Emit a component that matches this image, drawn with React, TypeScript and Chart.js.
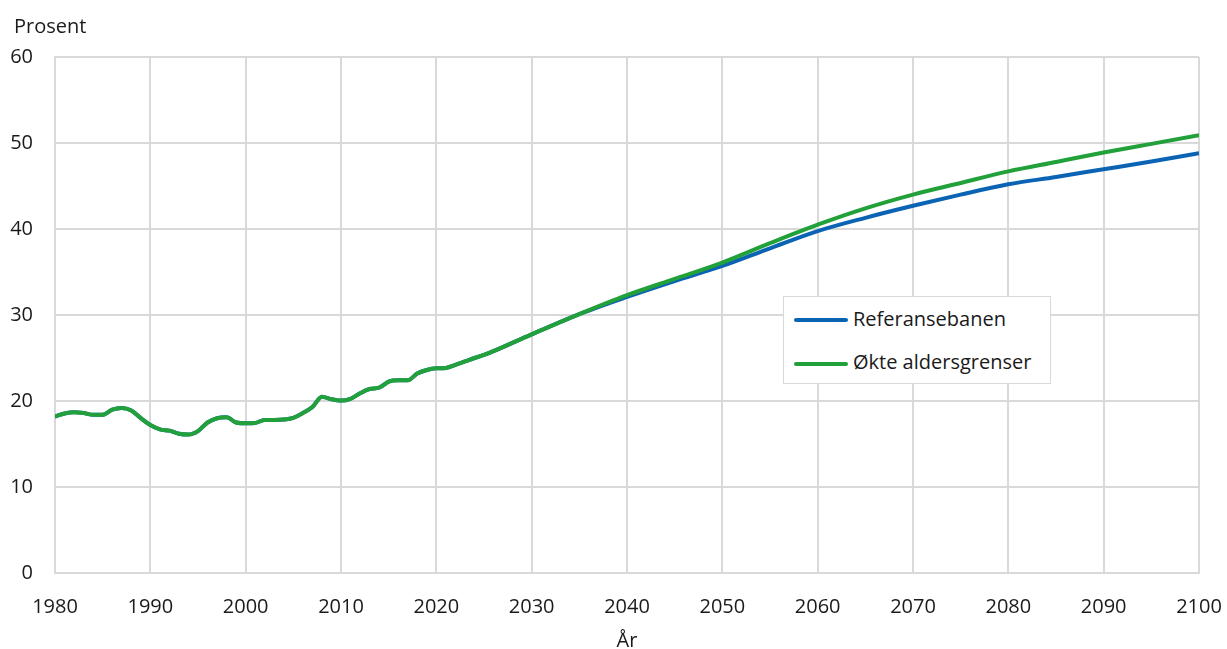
import React, { useEffect, useRef } from 'react';
import { Chart, registerables } from 'chart.js';

Chart.register(...registerables);

const histYears = [
  1980, 1981, 1982, 1983, 1984, 1985, 1986, 1987, 1988, 1989,
  1990, 1991, 1992, 1993, 1994, 1995, 1996, 1997, 1998, 1999,
  2000, 2001, 2002, 2003, 2004, 2005, 2006, 2007, 2008, 2009,
  2010, 2011, 2012, 2013, 2014, 2015, 2016, 2017, 2018, 2019,
  2020, 2021, 2022, 2023, 2024, 2025,
];
const histValues = [
  18.2, 18.55, 18.7, 18.6, 18.4, 18.4, 19.0, 19.2, 18.9, 18.0,
  17.2, 16.7, 16.55, 16.2, 16.1, 16.5, 17.5, 18.0, 18.1, 17.5,
  17.4, 17.45, 17.8, 17.8, 17.85, 18.05, 18.6, 19.3, 20.5, 20.2,
  20.05, 20.25, 20.9, 21.4, 21.55, 22.25, 22.4, 22.4, 23.2, 23.6,
  23.8, 23.85, 24.2, 24.6, 25.0, 25.35,
];
const projYears = [2030, 2035, 2040, 2045, 2050, 2055, 2060, 2065, 2070, 2075, 2080, 2085, 2090, 2095, 2100];
const referanseValues = [27.75, 30.1, 32.1, 33.95, 35.7, 37.75, 39.75, 41.3, 42.7, 44.0, 45.2, 46.05, 46.95, 47.85, 48.8];
const okteValues = [27.75, 30.1, 32.3, 34.2, 36.1, 38.35, 40.5, 42.4, 44.0, 45.35, 46.7, 47.8, 48.9, 49.9, 50.9];

const seriesLabels = ['Referansebanen', 'Økte aldersgrenser'];
const seriesColors = ['#0a63b3', '#22a03a'];
const yTitle = 'Prosent';
const xTitle = 'År';

const FONT = "'Open Sans', 'Noto Sans', sans-serif";
const GRID = '#d9d9d9';
const TEXT = '#1a1a1a';

function buildPoints(values: number[]) {
  const pts = histYears.map((x, i) => ({ x, y: histValues[i] }));
  projYears.forEach((x, i) => pts.push({ x, y: values[i] }));
  return pts;
}

export default function App() {
  const canvasRef = useRef<HTMLCanvasElement | null>(null);

  useEffect(() => {
    if (!canvasRef.current) return;
    const chart = new Chart(canvasRef.current, {
      type: 'line',
      data: {
        datasets: [
          {
            label: seriesLabels[0],
            data: buildPoints(referanseValues),
            borderColor: seriesColors[0],
            backgroundColor: seriesColors[0],
            borderWidth: 4,
            pointRadius: 0,
            cubicInterpolationMode: 'monotone',
            order: 2,
          },
          {
            label: seriesLabels[1],
            data: buildPoints(okteValues),
            borderColor: seriesColors[1],
            backgroundColor: seriesColors[1],
            borderWidth: 4,
            pointRadius: 0,
            cubicInterpolationMode: 'monotone',
            order: 1,
          },
        ],
      },
      options: {
        animation: false,
        responsive: false,
        maintainAspectRatio: false,
        layout: { padding: { top: 57, right: 28, bottom: 0, left: 0 } },
        plugins: {
          legend: { display: false },
          tooltip: { enabled: false },
          title: { display: false },
        },
        scales: {
          x: {
            type: 'linear',
            min: 1980,
            max: 2100,
            ticks: {
              stepSize: 10,
              padding: 22,
              color: TEXT,
              font: { family: FONT, size: 20 },
              callback: (v: any) => String(v),
              maxRotation: 0,
            },
            grid: { color: GRID, lineWidth: 2, drawTicks: false },
            border: { color: GRID, width: 2 },
            title: {
              display: true,
              text: xTitle,
              color: TEXT,
              font: { family: FONT, size: 20 },
              padding: { top: 0, bottom: -4 },
            },
            afterFit: (scale: any) => {
              scale.height = 76;
              scale.paddingRight = 0;
              scale.paddingLeft = 0;
            },
          },
          y: {
            min: 0,
            max: 60,
            ticks: {
              stepSize: 10,
              padding: 22,
              color: TEXT,
              font: { family: FONT, size: 20 },
            },
            grid: { color: GRID, lineWidth: 2, drawTicks: false },
            border: { color: GRID, width: 2 },
            afterFit: (scale: any) => {
              scale.width = 55;
              scale.paddingTop = 0;
              scale.paddingBottom = 0;
            },
          },
        },
      },
    });
    return () => chart.destroy();
  }, []);

  const legendItem = (i: number, top: number) => (
    <div key={i}>
      <div
        style={{
          position: 'absolute',
          left: 10,
          top: top + 11.6,
          width: 54,
          height: 4,
          background: seriesColors[i],
          borderRadius: 2,
        }}
      />
      <div
        style={{
          position: 'absolute',
          left: 69,
          top,
          fontFamily: FONT,
          fontSize: 20,
          lineHeight: '24px',
          color: TEXT,
          whiteSpace: 'nowrap',
        }}
      >
        {seriesLabels[i]}
      </div>
    </div>
  );

  return (
    <div style={{ position: 'absolute', left: 0, top: 0, width: 1227, height: 649, background: '#fff' }}>
      <canvas ref={canvasRef} width={1227} height={649} style={{ display: 'block' }} />
      <div
        style={{
          position: 'absolute',
          left: 14,
          top: 14,
          fontFamily: FONT,
          fontSize: 20,
          lineHeight: '24px',
          color: TEXT,
        }}
      >
        {yTitle}
      </div>
      <div
        style={{
          position: 'absolute',
          left: 783,
          top: 296,
          width: 268,
          height: 88,
          boxSizing: 'border-box',
          border: '1px solid #d9d9d9',
          background: '#fff',
        }}
      >
        {legendItem(0, 9.7)}
        {legendItem(1, 53.1)}
      </div>
    </div>
  );
}
